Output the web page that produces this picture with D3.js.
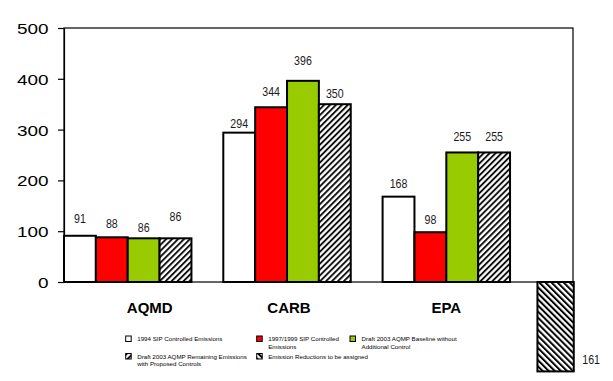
<!DOCTYPE html>
<html>
<head>
<meta charset="utf-8">
<script src="https://cdn.jsdelivr.net/npm/d3@7"></script>
<style>
  body { margin: 0; background: #fff; }
  svg { display: block; font-family: "Liberation Sans", Arial, sans-serif; }
</style>
</head>
<body>
<svg id="chart" width="613" height="381"></svg>
<script>
// categorias y series
var categories = ["AQMD", "CARB", "EPA"];
var seriesNames = [
  "1994 SIP Controlled Emissions",
  "1997/1999 SIP Controlled Emissions",
  "Draft 2003 AQMP Baseline without Additional Control",
  "Draft 2003 AQMP Remaining Emissions with Proposed Controls",
  "Emission Reductions to be assigned"
];
var sip1994 = [91, 294, 168];
var sip1997 = [88, 344, 98];
var baseline2003 = [86, 396, 255];
var remaining2003 = [86, 350, 255];
var reductionValue = -176;     // largo de la barra
var reductionLabel = "161";    // etiqueta impresa
var yTicks = [0, 100, 200, 300, 400, 500];

// legend lines (wrapped as in the picture)
var legendLines = [
  ["1994 SIP Controlled Emissions"],
  ["1997/1999 SIP Controlled", "Emissions"],
  ["Draft 2003 AQMP Baseline without", "Additional Control"],
  ["Draft 2003 AQMP Remaining Emissions", "with Proposed Controls"],
  ["Emission Reductions to be assigned"]
];

var fills = ["#ffffff", "#ff0000", "#99cc00", "url(#hatchUp)", "url(#hatchDown)"];

// layout
var plot = {left: 64, right: 573, top: 28, bottom: 282};
var step = 159.3;
var labelShift = [22, 2, 0];
var valueGap = [[13, 9, 6, 17], [5, 11, 15.5, 6], [8.5, 8, 11, 11]];

var svg = d3.select("#chart");

var defs = svg.append("defs");
defs.append("pattern")
    .attr("id", "hatchUp")
    .attr("patternUnits", "userSpaceOnUse")
    .attr("width", 4.2)
    .attr("height", 4.2)
    .attr("patternTransform", "rotate(45)")
  .call(function(p) {
    p.append("rect").attr("width", 4.2).attr("height", 4.2).attr("fill", "#fff");
    p.append("line").attr("x1", 1).attr("x2", 1).attr("y1", 0).attr("y2", 4.2)
      .attr("stroke", "#000").attr("stroke-width", 1.8);
  });
defs.append("pattern")
    .attr("id", "hatchDown")
    .attr("patternUnits", "userSpaceOnUse")
    .attr("width", 4.3)
    .attr("height", 4.3)
    .attr("patternTransform", "rotate(-45)")
  .call(function(p) {
    p.append("rect").attr("width", 4.3).attr("height", 4.3).attr("fill", "#fff");
    p.append("line").attr("x1", 1).attr("x2", 1).attr("y1", 0).attr("y2", 4.3)
      .attr("stroke", "#000").attr("stroke-width", 2);
  });

var y = d3.scaleLinear()
    .domain([0, 500])
    .range([plot.bottom, plot.top]);

var x0 = d3.scaleBand()
    .domain(categories.concat(["Reductions"]))
    .range([plot.left, plot.left + step * 4])
    .paddingInner(0)
    .paddingOuter(0);

var x1 = d3.scaleBand()
    .domain(d3.range(5))
    .range([0, step]);

// frame
svg.append("rect")
    .attr("x", plot.left)
    .attr("y", plot.top)
    .attr("width", plot.right - plot.left)
    .attr("height", plot.bottom - plot.top)
    .attr("fill", "none")
    .attr("stroke", "#000")
    .attr("stroke-width", 1.2);

// eje Y
var yAxis = svg.append("g")
    .attr("transform", "translate(" + plot.left + ",0)")
    .call(d3.axisLeft(y).tickValues(yTicks).tickSize(6).tickSizeOuter(0).tickFormat(d3.format("d")));
yAxis.select(".domain").attr("stroke", "#000").attr("stroke-width", 1.2);
yAxis.selectAll(".tick line").attr("stroke", "#000").attr("stroke-width", 1.2);
yAxis.selectAll(".tick text").remove();

yAxis.selectAll(".tick").append("text")
    .attr("transform", "translate(-15.5,5.5) scale(1.22,1)")
    .attr("text-anchor", "end")
    .attr("fill", "#000")
    .style("font-size", "15.5px")
    .text(function(d) { return d; });

// data table for bars
var seriesValues = [sip1994, sip1997, baseline2003, remaining2003];
var bars = [];
categories.forEach(function(c, i) {
  seriesValues.forEach(function(vals, s) {
    bars.push({cat: c, ci: i, s: s, value: vals[i]});
  });
});

var g = svg.append("g");

g.selectAll("rect.bar").data(bars)
  .enter()
  .append("rect")
    .attr("class", "bar")
    .attr("x", function(d) { return x0(d.cat) + x1(d.s); })
    .attr("y", function(d) { return y(d.value); })
    .attr("width", x1.bandwidth())
    .attr("height", function(d) { return y(0) - y(d.value); })
    .attr("fill", function(d) { return fills[d.s]; })
    .attr("stroke", "#000")
    .attr("stroke-width", 2);

// etiquetas de valores
g.selectAll("text.val").data(bars)
  .enter()
  .append("text")
    .attr("class", "val")
    .attr("transform", function(d) {
      var cx = x0(d.cat) + x1(d.s) + x1.bandwidth() / 2;
      var cy = y(d.value) - valueGap[d.ci][d.s];
      return "translate(" + cx + "," + cy + ") scale(0.85,1)";
    })
    .attr("text-anchor", "middle")
    .attr("fill", "#1a1a1a")
    .style("font-size", "12.5px")
    .text(function(d) { return d.value; });

// barra negativa (reducciones)
var redW = x1.bandwidth() * 1.14;
var redX = x0("Reductions") + x1.bandwidth() - redW;
g.append("rect")
    .datum(reductionValue)
    .attr("x", redX)
    .attr("y", y(0))
    .attr("width", redW)
    .attr("height", function(d) { return y(d) - y(0); })
    .attr("fill", fills[4])
    .attr("stroke", "#000")
    .attr("stroke-width", 2);

g.append("text")
    .attr("transform", "translate(" + (redX + redW + 8.5) + "," + (y(reductionValue) - 7.5) + ") scale(0.85,1)")
    .attr("fill", "#1a1a1a")
    .style("font-size", "12.5px")
    .text(reductionLabel);

// categorias eje X
svg.selectAll("text.cat").data(categories)
  .enter()
  .append("text")
    .attr("class", "cat")
    .attr("x", function(d, i) { return x0(d) + x1.bandwidth() * 2 + labelShift[i]; })
    .attr("y", 313)
    .attr("text-anchor", "middle")
    .attr("fill", "#000")
    .style("font-size", "15px")
    .style("font-weight", "bold")
    .text(function(d) { return d; });

// leyenda
var legendCols = [125.7, 256.7, 350];
var legendRows = [336, 353.5];
var legendPos = [[0, 0], [1, 0], [2, 0], [0, 1], [1, 1]];

var legend = svg.selectAll("g.legend").data(seriesNames)
  .enter()
  .append("g")
    .attr("class", "legend")
    .attr("transform", function(d, i) {
      return "translate(" + legendCols[legendPos[i][0]] + "," + legendRows[legendPos[i][1]] + ")";
    });

legend.append("rect")
    .attr("width", 5.5)
    .attr("height", 5.5)
    .attr("fill", function(d, i) { return fills[i]; })
    .attr("stroke", "#000")
    .attr("stroke-width", 1);

legend.each(function(d, i) {
  var t = d3.select(this).append("text")
      .attr("fill", "#000")
      .style("font-size", "6.2px");
  legendLines[i].forEach(function(line, k) {
    t.append("tspan")
      .attr("x", 11.5)
      .attr("y", 5 + k * 7.5)
      .text(line);
  });
});
</script>
</body>
</html>
